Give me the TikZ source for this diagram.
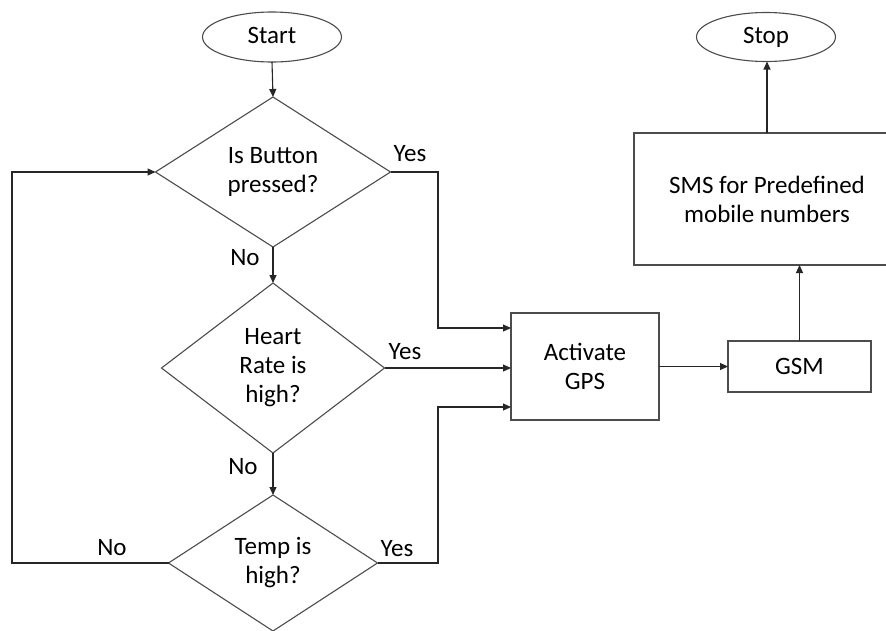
\documentclass[tikz,border=0pt]{standalone}
\usepackage{fontspec}
\setmainfont{Carlito}
\usetikzlibrary{shapes.geometric,arrows.meta}
\begin{document}
\begin{tikzpicture}[x=1pt,y=-1pt,
  every node/.style={font=\fontsize{25}{29}\selectfont, text=black},
  shp/.style={draw=black!70, line width=1.1pt, inner sep=0pt, outer sep=0pt},
  term/.style={shp, ellipse, text height=17pt, text depth=5pt},
  dec/.style={shp, diamond, align=center},
  box/.style={shp, rectangle, align=center},
  lbl/.style={inner sep=0pt},
  conn/.style={draw=black!85, line width=1.1pt},
  arr/.style={conn, -{Triangle[length=8pt,width=7pt]}}
]
\path[use as bounding box, clip] (0,0) rectangle (886,630);
\fill[white] (0,0) rectangle (886,630);

\node[term, minimum width=139pt, minimum height=50pt] (start) at (272,37) {Start};
\node[term, minimum width=139pt, minimum height=49pt] (stop) at (766,37) {Stop};

\node[dec, minimum width=235pt, minimum height=150pt] (d1) at (273,172) {Is Button\\pressed?};
\node[dec, minimum width=223pt, minimum height=170pt] (d2) at (273,368) {Heart\\Rate is\\high?};
\node[dec, minimum width=209pt, minimum height=136pt] (d3) at (273,563) {Temp is\\high?};

\node[box, minimum width=148pt, minimum height=107pt] (gps) at (585,366.5) {Activate\\GPS};
\node[box, minimum width=143pt, minimum height=51pt] (gsm) at (799.5,366.5) {GSM};
\node[box, minimum width=266pt, minimum height=132pt] (sms) at (767,199) {SMS for Predefined\\mobile numbers};

\coordinate (c1) at (438,172);
\coordinate (c3) at (438,563);
\coordinate (lp) at (12,563);

\draw[arr] (start.south) -- (d1.north);
\draw[arr] (d1.south) -- (d2.north);
\draw[arr] (d2.south) -- (d3.north);
\draw[arr] (d1.east) -- (c1) |- ([yshift=38.5pt]gps.west);
\draw[arr] (d2.east) -- (d2.east -| gps.west);
\draw[arr] (d3.east) -- (c3) |- ([yshift=-40.5pt]gps.west);
\draw[arr] (d3.west) -- (lp) |- (d1.west);
\draw[arr] (gps.east) -- (gsm.west);
\draw[arr] (gsm.north) -- (gsm.north |- sms.south);
\draw[arr] (sms.north) -- (sms.north |- stop.south);

\node[lbl] (y1) at (410,154) {Yes};
\node[lbl] (n1) at (245,258) {No};
\node[lbl] (y2) at (405,352) {Yes};
\node[lbl] (n2) at (243,467) {No};
\node[lbl] (n3) at (112,548) {No};
\node[lbl] (y3) at (397,549) {Yes};
\end{tikzpicture}
\end{document}
